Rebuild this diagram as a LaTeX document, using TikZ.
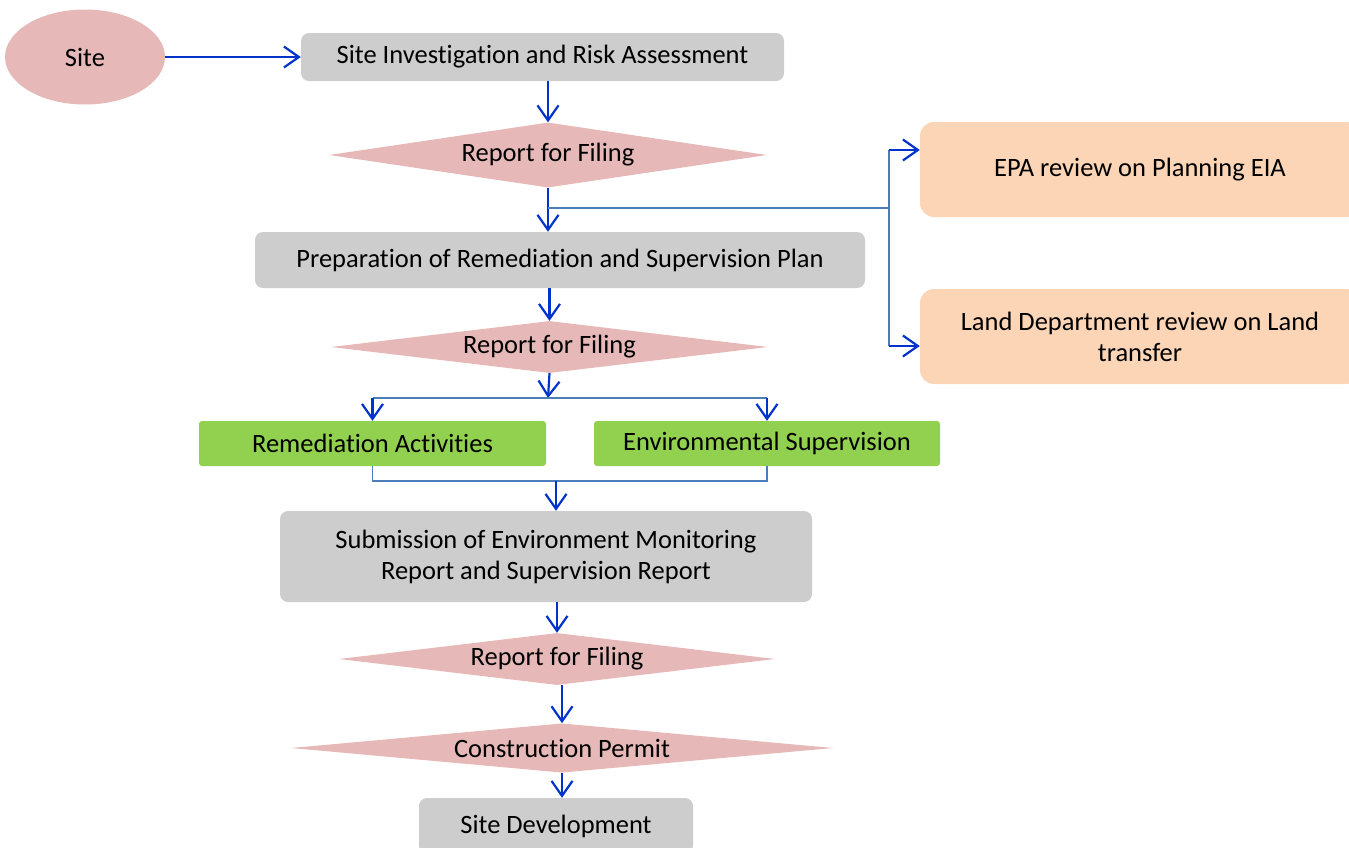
\documentclass[tikz,border=0pt]{standalone}
\usepackage{fontspec}
\setmainfont{Carlito}[Ligatures=NoCommon]
\usetikzlibrary{shapes.geometric,arrows.meta,calc}
\definecolor{boxgray}{HTML}{CDCDCD}
\definecolor{filingpink}{HTML}{E6B9B8}
\definecolor{reviewpeach}{HTML}{FBD5B5}
\definecolor{workgreen}{HTML}{92D050}
\definecolor{flowblue}{HTML}{0033CC}
\definecolor{linkblue}{HTML}{4A7EBB}
\begin{document}
\begin{tikzpicture}[x=1pt, y=-1pt,
  every node/.style={font=\fontsize{26.5}{31}\selectfont, align=center, inner sep=0pt},
  stepbox/.style={fill=boxgray, rounded corners=8pt},
  filingnode/.style={diamond, fill=filingpink, aspect=7},
  reviewbox/.style={fill=reviewpeach, rounded corners=14pt},
  workbox/.style={fill=workgreen, rounded corners=3pt},
  flow/.style={flowblue, line width=2.2pt, -{Straight Barb[length=15pt, width=21pt]}},
  link/.style={linkblue, line width=1.6pt}]
  \clip (0,0) rectangle (1349,847);
  % main column
  \node[ellipse, fill=filingpink, minimum width=160, minimum height=95] (site) at (85,57) {Site};
  \node[stepbox, minimum width=483, minimum height=48] (invest) at (542.5,57) {Site Investigation and Risk Assessment};
  \node[filingnode, minimum width=438, minimum height=65] (filing1) at (548,155) {Report for Filing};
  \node[stepbox, minimum width=610, minimum height=56] (prep) at (560,260) {Preparation of Remediation and Supervision Plan};
  \node[filingnode, minimum width=437, minimum height=52] (filing2) at (549.5,347) {Report for Filing};
  \node[workbox, minimum width=347, minimum height=45] (remed) at (372.5,443.5) {Remediation Activities};
  \node[workbox, minimum width=346, minimum height=45] (envsup) at (767,443.5) {Environmental Supervision};
  \node[stepbox, minimum width=532, minimum height=91] (submit) at (546,556.5) {Submission of Environment Monitoring\\Report and Supervision Report};
  \node[filingnode, minimum width=436, minimum height=52] (filing3) at (557,659) {Report for Filing};
  \node[filingnode, minimum width=542, minimum height=46] (permit) at (562,748) {Construction Permit};
  \node[stepbox, minimum width=274, minimum height=56] (develop) at (556,826) {Site Development};
  % reviews on the right
  \node[reviewbox, minimum width=440, minimum height=95] (epa) at (1140,169.5) {EPA review on Planning EIA};
  \node[reviewbox, minimum width=440, minimum height=95] (land) at (1140,336.5) {Land Department review on Land\\transfer};
  % connectors
  \draw[flow] (site) -- (invest);
  \draw[flow] (filing1.north |- invest.south) -- (filing1.north);
  \draw[flow] (filing1.south) -- (filing1.south |- prep.north);
  \coordinate (split) at (889,208);
  \coordinate (epain) at ($(epa.west)+(0,-19.5)$);
  \coordinate (landin) at ($(land.west)+(0,9.5)$);
  \draw[link] (filing1.south |- split) -- (split);
  \draw[link] (split |- epain) -- (split |- landin);
  \draw[flow] (split |- epain) -- (epain);
  \draw[flow] (split |- landin) -- (landin);
  \draw[flow] (filing2.north |- prep.south) -- (filing2.north);
  \coordinate (fork) at (548,398);
  \draw[flow] (filing2.south) -- (fork);
  \draw[link] (remed.north |- fork) -- (envsup.north |- fork);
  \foreach \w in {remed, envsup}
    \draw[flow] (\w.north |- fork) -- (\w.north);
  \draw[link] (remed.south) -- ++(0,15) -| (envsup.south);
  \coordinate (join) at (556,481);
  \draw[flow] (join) -- (join |- submit.north);
  \draw[flow] (filing3.north |- submit.south) -- (filing3.north);
  \draw[flow] (permit.north |- filing3.south) -- (permit.north);
  \draw[flow] (permit.south) -- (permit.south |- develop.north);
\end{tikzpicture}
\end{document}
